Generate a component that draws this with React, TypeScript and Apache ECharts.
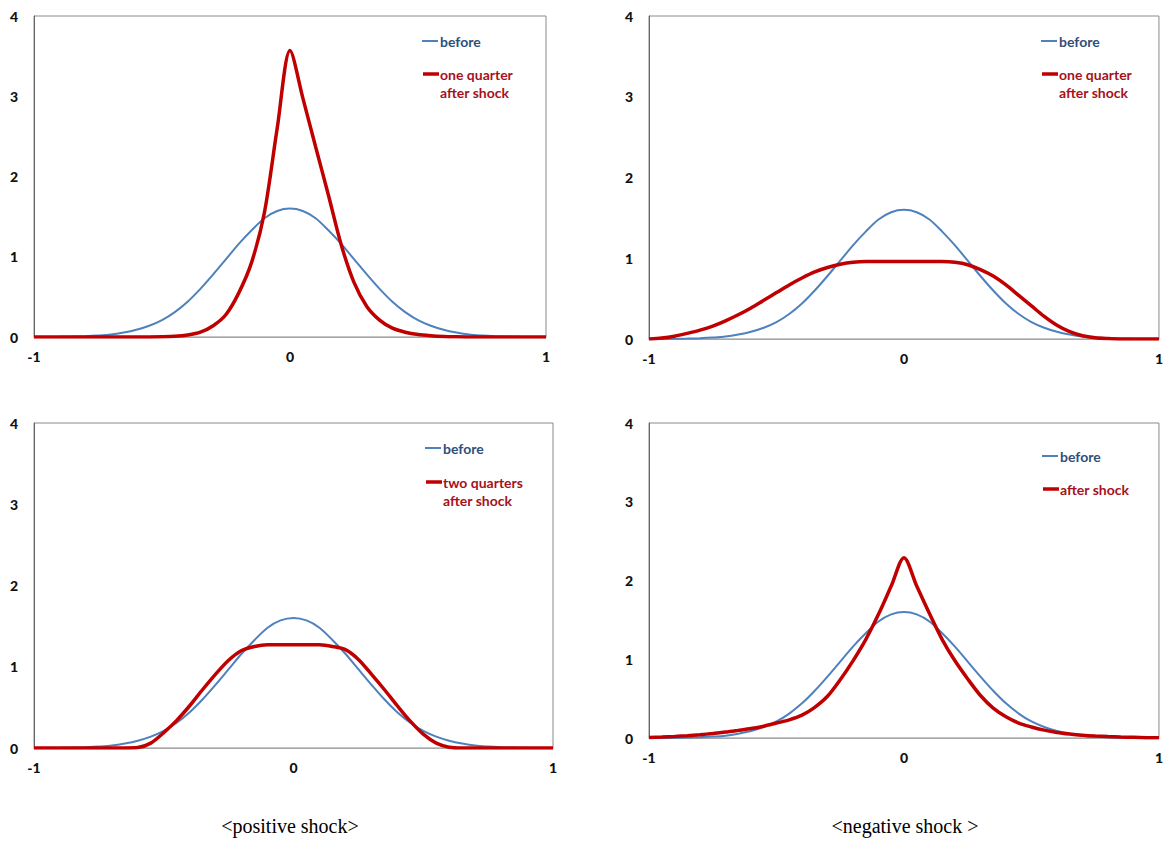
import React, { useEffect, useRef } from "react";
import * as echarts from "echarts";

const xValues = [
  -1, -0.95, -0.9, -0.85, -0.8, -0.75, -0.7, -0.65, -0.6, -0.55, -0.5, -0.45, -0.4, -0.35, -0.3, -0.25, -0.2, -0.15, -0.1, -0.05, 0,
  0.05, 0.1, 0.15, 0.2, 0.25, 0.3, 0.35, 0.4, 0.45, 0.5, 0.55, 0.6, 0.65, 0.7, 0.75, 0.8, 0.85, 0.9, 0.95, 1,
];

const before = [
  0, 0.001, 0.002, 0.005, 0.01, 0.018, 0.03, 0.055, 0.09, 0.14, 0.21, 0.31, 0.44, 0.6, 0.78, 0.97, 1.16, 1.33, 1.48, 1.57, 1.6,
  1.57, 1.48, 1.33, 1.16, 0.97, 0.78, 0.6, 0.44, 0.31, 0.21, 0.14, 0.09, 0.055, 0.03, 0.018, 0.01, 0.005, 0.002, 0.001, 0,
];

const posOneQuarter = [
  0, 0, 0, 0, 0, 0, 0, 0, 0, 0, 0.002, 0.008, 0.025, 0.06, 0.14, 0.28, 0.55, 0.93, 1.55, 2.6, 3.57,
  2.98, 2.37, 1.77, 1.15, 0.68, 0.38, 0.21, 0.11, 0.06, 0.03, 0.015, 0.006, 0.002, 0, 0, 0, 0, 0, 0, 0,
];

const negOneQuarter = [
  0, 0.012, 0.035, 0.07, 0.11, 0.16, 0.225, 0.3, 0.385, 0.48, 0.575, 0.67, 0.755, 0.83, 0.885, 0.925, 0.95, 0.96, 0.96, 0.96, 0.96,
  0.96, 0.96, 0.96, 0.95, 0.92, 0.86, 0.78, 0.67, 0.54, 0.41, 0.28, 0.17, 0.09, 0.04, 0.015, 0.005, 0, 0, 0, 0,
];

const posTwoQuarters = [
  0, 0, 0, 0, 0, 0, 0, 0, 0.005, 0.06, 0.19, 0.34, 0.52, 0.72, 0.91, 1.08, 1.2, 1.25, 1.27, 1.27, 1.27,
  1.27, 1.27, 1.25, 1.21, 1.09, 0.91, 0.72, 0.52, 0.33, 0.17, 0.06, 0.01, 0, 0, 0, 0, 0, 0, 0, 0,
];

const negAfterShock = [
  0.005, 0.012, 0.02, 0.03, 0.042, 0.057, 0.075, 0.097, 0.12, 0.15, 0.19, 0.23, 0.29, 0.39, 0.53, 0.74, 0.98, 1.25, 1.57, 1.93, 2.29,
  1.93, 1.58, 1.25, 0.98, 0.75, 0.54, 0.38, 0.27, 0.19, 0.14, 0.1, 0.07, 0.05, 0.035, 0.025, 0.018, 0.012, 0.008, 0.004, 0.002,
];

const xTicks = ["-1", "0", "1"];
const yTicks = ["0", "1", "2", "3", "4"];

const panels = [
  { red: posOneQuarter, redLabel: ["one quarter", "after shock"] },
  { red: negOneQuarter, redLabel: ["one quarter", "after shock"] },
  { red: posTwoQuarters, redLabel: ["two quarters", "after shock"] },
  { red: negAfterShock, redLabel: ["after shock"] },
];

const captions = ["<positive shock>", "<negative shock >"];

const BLUE = "#4F81BD";
const RED = "#C00000";
const BLUE_TEXT = "#2F4F7A";
const RED_TEXT = "#A5121C";
const FONT = "Lato, 'Open Sans', sans-serif";

const grids = [
  { left: 34, top: 16, width: 512, height: 321 },
  { left: 649, top: 16, width: 514, height: 323 },
  { left: 34, top: 423, width: 519, height: 325 },
  { left: 649, top: 423, width: 514, height: 315 },
];

const legendPos = [
  { x: 422, yb: 41, yr: 74 },
  { x: 1041, yb: 41, yr: 74 },
  { x: 425, yb: 448, yr: 482 },
  { x: 1042, yb: 456, yr: 489 },
];

export default function App() {
  const ref = useRef<HTMLDivElement>(null);
  useEffect(() => {
    if (!ref.current) return;
    const chart = echarts.init(ref.current, null, { renderer: "svg" });
    const xAxis: any[] = [];
    const yAxis: any[] = [];
    const series: any[] = [];
    const graphic: any[] = [];
    grids.forEach((g, i) => {
      xAxis.push({
        type: "value",
        gridIndex: i,
        min: -1,
        max: 1,
        interval: 1,
        axisLine: { show: true, onZero: false, lineStyle: { color: "#a6a6a6", width: 1 } },
        axisTick: { show: false },
        splitLine: { show: false },
        axisLabel: {
          margin: 12,
          fontFamily: FONT,
          fontWeight: 900,
          fontSize: 14,
          color: "#111",
          formatter: (v: number) => xTicks[Math.round(v) + 1] ?? String(v),
        },
      });
      yAxis.push({
        type: "value",
        gridIndex: i,
        min: 0,
        max: 4,
        interval: 1,
        axisLine: { show: true, onZero: false, lineStyle: { color: "#666", width: 1 } },
        axisTick: { show: false },
        splitLine: { show: false },
        axisLabel: {
          margin: 16,
          fontFamily: FONT,
          fontWeight: 900,
          fontSize: 14,
          color: "#111",
          formatter: (v: number) => yTicks[Math.round(v)] ?? String(v),
        },
      });
      series.push({
        type: "line",
        name: "before",
        xAxisIndex: i,
        yAxisIndex: i,
        data: xValues.map((x, k) => [x, before[k]]),
        showSymbol: false,
        smooth: 0.3,
        lineStyle: { color: BLUE, width: 2 },
        z: 2,
      });
      series.push({
        type: "line",
        name: "after",
        xAxisIndex: i,
        yAxisIndex: i,
        data: xValues.map((x, k) => [x, panels[i].red[k]]),
        showSymbol: false,
        smooth: 0.3,
        lineStyle: { color: RED, width: 3.5 },
        z: 3,
      });
      const lp = legendPos[i];
      graphic.push({
        type: "line",
        shape: { x1: lp.x, y1: lp.yb, x2: lp.x + 16, y2: lp.yb },
        style: { stroke: BLUE, lineWidth: 2 },
      });
      graphic.push({
        type: "text",
        x: lp.x + 18,
        y: lp.yb,
        style: {
          text: "before",
          fill: BLUE_TEXT,
          font: `bold 14px ${FONT}`,
          textVerticalAlign: "middle",
        },
      });
      graphic.push({
        type: "line",
        shape: { x1: lp.x + 1, y1: lp.yr, x2: lp.x + 17, y2: lp.yr },
        style: { stroke: RED, lineWidth: 3.5 },
      });
      panels[i].redLabel.forEach((t, j) => {
        graphic.push({
          type: "text",
          x: lp.x + 18,
          y: lp.yr + j * 18,
          style: {
            text: t,
            fill: RED_TEXT,
            font: `bold 14px ${FONT}`,
            textVerticalAlign: "middle",
          },
        });
      });
    });
    graphic.push({
      type: "text",
      x: 290,
      y: 826,
      style: {
        text: captions[0],
        fill: "#000",
        font: "20px 'Liberation Serif', 'Times New Roman', serif",
        textAlign: "center",
        textVerticalAlign: "middle",
      },
    });
    graphic.push({
      type: "text",
      x: 905,
      y: 826,
      style: {
        text: captions[1],
        fill: "#000",
        font: "20px 'Liberation Serif', 'Times New Roman', serif",
        textAlign: "center",
        textVerticalAlign: "middle",
      },
    });
    chart.setOption({
      animation: false,
      backgroundColor: "#ffffff",
      grid: grids.map((g) => ({ ...g, show: true, borderColor: "#8a8a8a", borderWidth: 1, backgroundColor: "transparent" })),
      xAxis,
      yAxis,
      series,
      graphic,
    });
    return () => chart.dispose();
  }, []);
  return (
    <div
      ref={ref}
      style={{ position: "fixed", left: 0, top: 0, width: 1166, height: 841, background: "#fff" }}
    />
  );
}
